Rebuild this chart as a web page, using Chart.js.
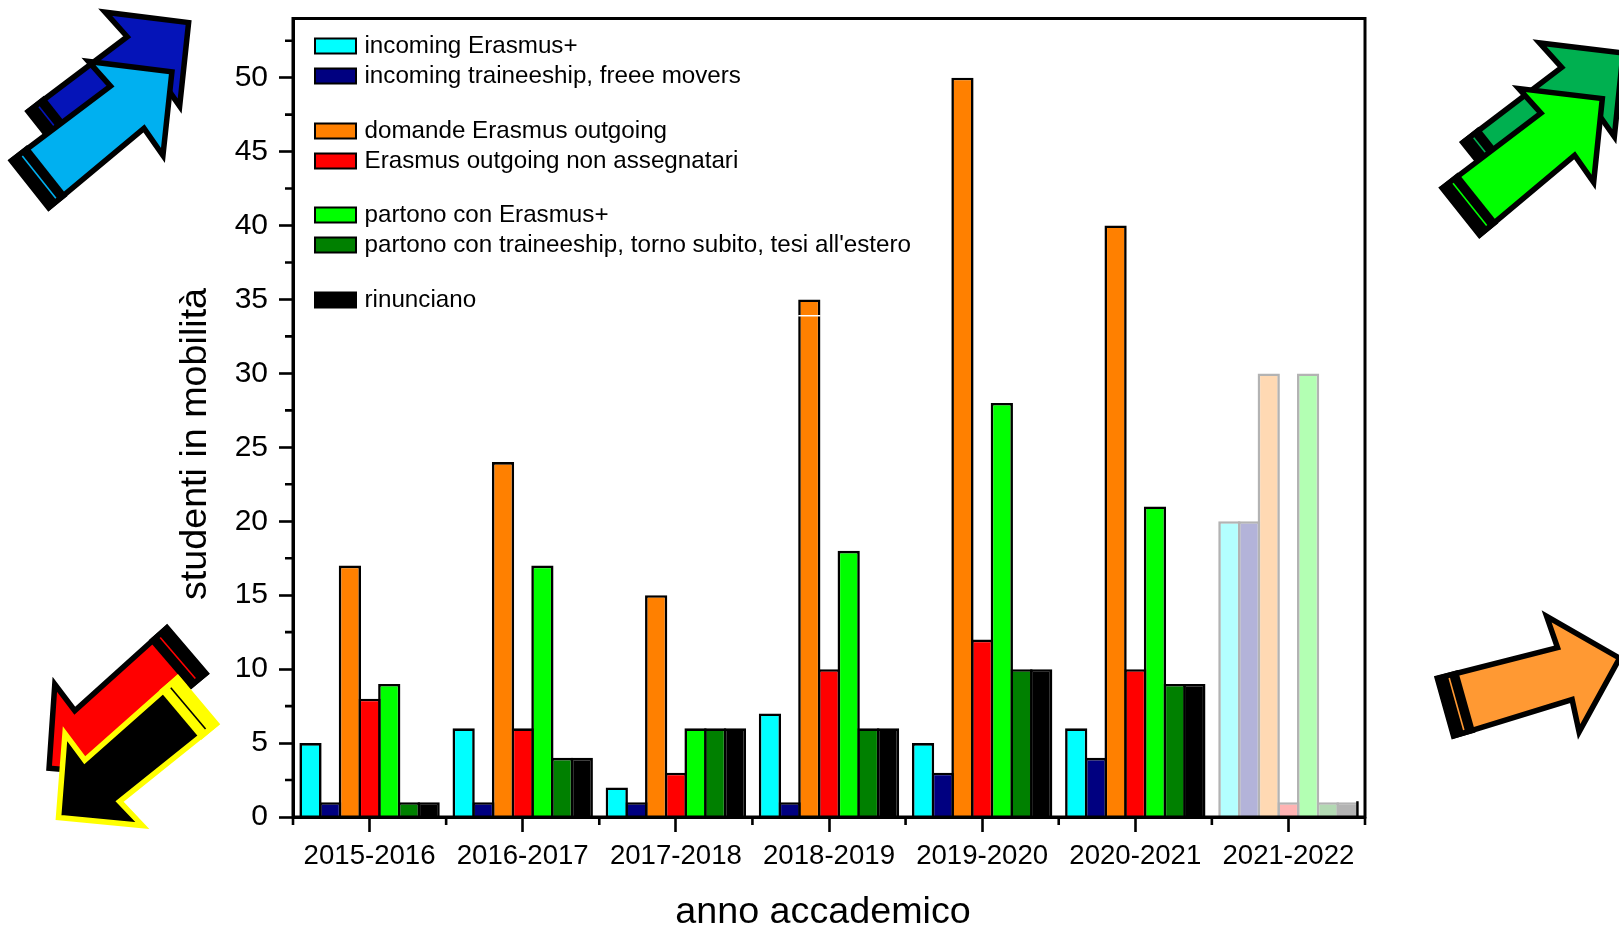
<!DOCTYPE html>
<html>
<head>
<meta charset="utf-8">
<title>studenti in mobilità</title>
<script src="https://cdn.jsdelivr.net/npm/chart.js@4"></script>
<style>
  html, body { margin: 0; padding: 0; background: #fff; overflow: hidden; }
  canvas { display: block; }
</style>
</head>
<body>
<canvas id="mobility" width="1619" height="926"></canvas>
<script>
// Data
const years = ['2015-2016', '2016-2017', '2017-2018', '2018-2019', '2019-2020', '2020-2021', '2021-2022'];
const incomingErasmus = [5, 6, 2, 7, 5, 6, 20];
const incomingTraineeship = [1, 1, 1, 1, 3, 4, 20];
const domandeOutgoing = [17, 24, 15, 35, 50, 40, 30];
const nonAssegnatari = [8, 6, 3, 10, 12, 10, 1];
const partonoErasmus = [9, 17, 6, 18, 28, 21, 30];
const partonoTraineeship = [1, 4, 6, 6, 10, 9, 1];
const rinunciano = [1, 4, 6, 6, 10, 9, 1];

const seriesValues = [incomingErasmus, incomingTraineeship, domandeOutgoing, nonAssegnatari, partonoErasmus, partonoTraineeship, rinunciano];
const seriesNames = [
  'incoming Erasmus+',
  'incoming traineeship, freee movers',
  'domande Erasmus outgoing',
  'Erasmus outgoing non assegnatari',
  'partono con Erasmus+',
  "partono con traineeship, torno subito, tesi all'estero",
  'rinunciano'
];
const seriesColors = ['#00ffff', '#000080', '#ff8000', '#ff0000', '#00ff00', '#008000', '#000000'];
// last academic year is an estimate, drawn washed out
const fadedColors = ['#b3ffff', '#b3b3d9', '#ffd9b3', '#ffb3b3', '#b3ffb3', '#b3d9b3', '#b3b3b3'];
const fadedBorder = '#b3b3b3';

const legendRowY = [46, 76, 131, 161, 215, 245, 300];

// Decorative arrows in the margins, drawn back to front
const arrows = [
  { x: 45.2, y: 136.2, angle: -38.4, fill: '#0514b8', edge: '#000000' },
  { x: 28.5, y: 185.5, angle: -38.4, fill: '#00b0f0', edge: '#000000' },
  { x: 1480, y: 167.2, angle: -38.6, fill: '#00b050', edge: '#000000' },
  { x: 1459.3, y: 212.8, angle: -38.6, fill: '#00ff00', edge: '#000000' },
  { x: 188, y: 649.2, angle: 139.4, fill: '#ff0000', edge: '#000000' },
  { x: 198.5, y: 699.7, angle: 139.9, fill: '#000000', edge: '#ffff00' },
  { x: 1443.5, y: 707.7, angle: -15.7, fill: '#ff9933', edge: '#000000' }
];
const arrowOutline = [[2, -30], [126, -27], [124, -60], [183, 0], [124, 60], [126, 27], [2, 30]];

const FONT = '"Liberation Sans", Arial, sans-serif';

function drawArrow(ctx, a) {
  ctx.save();
  ctx.translate(a.x, a.y);
  ctx.rotate(a.angle * Math.PI / 180);
  ctx.lineJoin = 'miter';
  ctx.miterLimit = 10;
  ctx.lineWidth = 5.5;
  ctx.strokeStyle = a.edge;
  ctx.fillStyle = a.fill;
  ctx.beginPath();
  arrowOutline.forEach(function(p, i) {
    if (i === 0) ctx.moveTo(p[0], p[1]); else ctx.lineTo(p[0], p[1]);
  });
  ctx.closePath();
  ctx.fill();
  ctx.stroke();
  // band at the tail, with a thin line through it
  ctx.fillStyle = a.edge;
  ctx.fillRect(0, -32.5, 24, 65);
  ctx.strokeStyle = a.fill;
  ctx.lineWidth = 1.6;
  ctx.beginPath();
  ctx.moveTo(13.5, -27);
  ctx.lineTo(13.5, 27);
  ctx.stroke();
  ctx.restore();
}

const extras = {
  id: 'extras',
  afterDraw: function(chart) {
    const ctx = chart.ctx;
    const area = chart.chartArea;
    const xScale = chart.scales.x;
    const yScale = chart.scales.y;

    ctx.save();
    ctx.strokeStyle = '#000';
    ctx.lineWidth = 2.6;
    ctx.lineCap = 'butt';

    // minor ticks
    ctx.beginPath();
    for (let v = 2.5; v < yScale.max; v += 5) {
      const py = yScale.getPixelForValue(v);
      ctx.moveTo(area.left - 8, py);
      ctx.lineTo(area.left, py);
    }
    const step = area.width / years.length;
    for (let i = 0; i <= years.length; i++) {
      const px = xScale.getPixelForValue(0) - step / 2 + i * step;
      ctx.moveTo(px, area.bottom);
      ctx.lineTo(px, area.bottom + 8);
    }
    ctx.stroke();

    // black edge left on the last faded bar
    const lastBar = chart.getDatasetMeta(6).data[6];
    ctx.lineWidth = 2.4;
    ctx.beginPath();
    ctx.moveTo(lastBar.x + lastBar.width / 2 - 1.2, lastBar.y - 1);
    ctx.lineTo(lastBar.x + lastBar.width / 2 - 1.2, lastBar.base);
    ctx.stroke();

    // thin white scratch across the tall 2018-2019 bar, as in the source image
    const tallBar = chart.getDatasetMeta(2).data[3];
    const scratchY = yScale.getPixelForValue(33.9);
    ctx.strokeStyle = '#fff';
    ctx.lineWidth = 1.5;
    ctx.beginPath();
    ctx.moveTo(tallBar.x - tallBar.width / 2, scratchY);
    ctx.lineTo(tallBar.x + tallBar.width / 2, scratchY);
    ctx.stroke();
    ctx.strokeStyle = '#000';

    // frame
    ctx.lineWidth = 3;
    ctx.strokeRect(area.left, area.top, area.width, area.height);

    // legend, grouped by hand
    ctx.font = '24.2px ' + FONT;
    ctx.textBaseline = 'middle';
    ctx.textAlign = 'left';
    ctx.lineWidth = 2;
    seriesNames.forEach(function(name, i) {
      const y = legendRowY[i];
      ctx.fillStyle = seriesColors[i];
      ctx.fillRect(315, y - 7.5, 41, 15);
      ctx.strokeRect(315, y - 7.5, 41, 15);
      ctx.fillStyle = '#000';
      ctx.fillText(name, 364.5, y);
    });

    // axis titles
    ctx.font = '37.7px ' + FONT;
    ctx.textAlign = 'center';
    ctx.fillText('anno accademico', 823, 913);
    ctx.translate(196, 444);
    ctx.rotate(-Math.PI / 2);
    ctx.fillText('studenti in mobilità', 0, 0);
    ctx.restore();

    arrows.forEach(function(a) { drawArrow(ctx, a); });
  }
};

new Chart(document.getElementById('mobility'), {
  type: 'bar',
  data: {
    labels: years,
    datasets: seriesNames.map(function(name, i) {
      return {
        label: name,
        data: seriesValues[i],
        backgroundColor: years.map(function(y, j) { return j === years.length - 1 ? fadedColors[i] : seriesColors[i]; }),
        borderColor: years.map(function(y, j) { return j === years.length - 1 ? fadedBorder : '#000000'; }),
        borderWidth: 2.6,
        categoryPercentage: 0.9,
        barPercentage: 1.13
      };
    })
  },
  options: {
    responsive: false,
    animation: false,
    devicePixelRatio: 1,
    layout: { padding: { left: 100, right: 254, top: 18.5, bottom: 0 } },
    plugins: { legend: { display: false }, tooltip: { enabled: false } },
    scales: {
      x: {
        afterFit: function(scale) { scale.height = 109; },
        grid: { offset: false, drawOnChartArea: false, tickLength: 15, tickWidth: 2.6, tickColor: '#000', color: '#000' },
        border: { color: '#000', width: 3 },
        ticks: { color: '#000', font: { family: FONT, size: 27.6 }, padding: 8, maxRotation: 0, autoSkip: false }
      },
      y: {
        min: 0,
        max: 54,
        afterFit: function(scale) { scale.width = 193; scale.paddingTop = 0; },
        grid: { drawOnChartArea: false, tickLength: 14, tickWidth: 2.6, tickColor: '#000', color: '#000' },
        border: { color: '#000', width: 3 },
        ticks: { stepSize: 5, includeBounds: false, color: '#000', font: { family: FONT, size: 30 }, padding: 11 }
      }
    }
  },
  plugins: [extras]
});
</script>
</body>
</html>
